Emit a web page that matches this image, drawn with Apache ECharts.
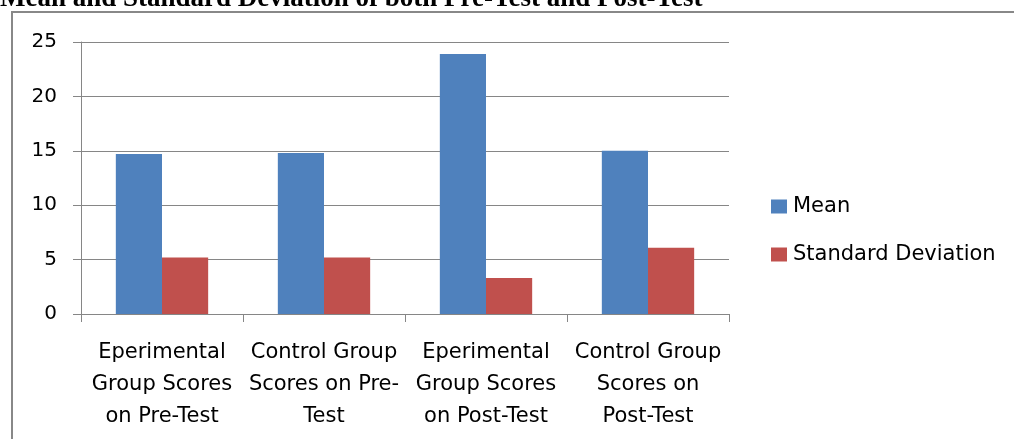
<!DOCTYPE html>
<html>
<head>
<meta charset="utf-8">
<script src="https://cdn.jsdelivr.net/npm/echarts@6/dist/echarts.min.js"></script>
<style>
  html, body { margin: 0; padding: 0; background: #fff; }
  #chart { width: 1014px; height: 439px; }
</style>
</head>
<body>
<div id="chart"></div>
<script>
var categories = [
  'Eperimental\nGroup Scores\non Pre-Test',
  'Control Group\nScores on Pre-\nTest',
  'Eperimental\nGroup Scores\non Post-Test',
  'Control Group\nScores on\nPost-Test'
]
var meanValues = [14.7, 14.8, 23.9, 15.0]
var sdValues = [5.2, 5.2, 3.3, 6.1]
var yTicks = { min: 0, max: 25, interval: 5 }

var myChart = echarts.init(document.getElementById('chart'))
var axisGray = '#868686'
var font = 'DejaVu Sans'

var option = {
  animation: false,
  graphic: [
    {
      type: 'text',
      left: 0,
      top: -14,
      style: {
        text: 'Mean and Standard Deviation of both Pre-Test and Post-Test',
        font: 'bold 27px "Liberation Serif"',
        fill: '#000'
      }
    },
    {
      type: 'polyline',
      shape: { points: [[12, 439], [12, 12], [1014, 12]] },
      style: { stroke: '#888', lineWidth: 2, fill: null }
    }
  ],
  legend: {
    orient: 'vertical',
    left: 766,
    top: 191,
    itemWidth: 16,
    itemHeight: 14,
    itemGap: 27,
    icon: 'rect',
    textStyle: { fontFamily: font, fontSize: 21, color: '#000', padding: [0, 0, 0, 1] },
    data: ['Mean', 'Standard Deviation']
  },
  grid: { left: 81, right: 285, top: 42, bottom: 125 },
  xAxis: {
    type: 'category',
    data: categories,
    axisLine: { lineStyle: { color: axisGray, width: 1 } },
    axisTick: { show: true, length: 8, lineStyle: { color: axisGray } },
    axisLabel: {
      interval: 0,
      margin: 23,
      fontFamily: font,
      fontSize: 21,
      lineHeight: 32,
      color: '#000',
      align: 'center'
    }
  },
  yAxis: {
    type: 'value',
    min: yTicks.min,
    max: yTicks.max,
    interval: yTicks.interval,
    axisLine: { show: true, lineStyle: { color: axisGray, width: 1 } },
    axisTick: { show: true, length: 8, lineStyle: { color: axisGray } },
    splitLine: { lineStyle: { color: axisGray, width: 1 } },
    axisLabel: { margin: 24, fontFamily: font, fontSize: 20, color: '#000' }
  },
  series: [
    {
      name: 'Mean',
      type: 'bar',
      barGap: 0,
      barCategoryGap: '43%',
      itemStyle: { color: '#4F81BD' },
      data: meanValues
    },
    {
      name: 'Standard Deviation',
      type: 'bar',
      barGap: 0,
      barCategoryGap: '43%',
      itemStyle: { color: '#C0504D' },
      data: sdValues
    }
  ]
}

option && myChart.setOption(option)
</script>
</body>
</html>
